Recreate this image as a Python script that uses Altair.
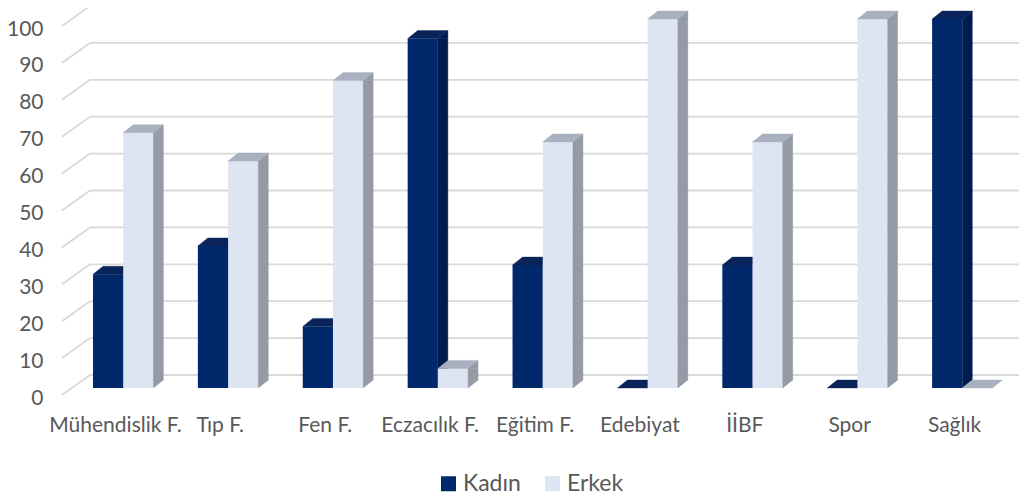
import altair as alt
import pandas as pd

categories = ["Mühendislik F.", "Tıp F.", "Fen F.", "Eczacılık F.", "Eğitim F.",
              "Edebiyat", "İİBF", "Spor", "Sağlık"]
series = ["Kadın", "Erkek"]
kadin = [30.8, 38.5, 16.7, 94.7, 33.3, 0, 33.3, 0, 100]
erkek = [69.2, 61.5, 83.3, 5.3, 66.7, 100, 66.7, 100, 0]
tick_values = list(range(0, 101, 10))

rows = []
for s, vals in zip(series, [kadin, erkek]):
    for c, v in zip(categories, vals):
        rows.append({"cat": c, "group": s, "value": v})
df = pd.DataFrame(rows)
tick_df = pd.DataFrame({"v": tick_values})

FONT = "Lato"
LABEL = "#595959"
GRID = "#d9d9d9"

front_col = {"Kadın": "#00296b", "Erkek": "#dde5f2"}
side_col = {"Kadın": "#001b4d", "Erkek": "#959aa5"}
top_col = {"Kadın": "#0a2459", "Erkek": "#a9b0bf"}

# geometry of the pseudo-3D bars, relative to band centre (pixels)
W = 30.2
DX, DY = 10, 8
left = {"Kadın": -22.45, "Erkek": -22.45 + W}

yscale = alt.Scale(domain=[0, 100], nice=False, zero=True)
xscale = alt.Scale(domain=categories, paddingInner=0, paddingOuter=0)

xaxis = alt.Axis(labelAngle=0, domain=False, ticks=False, grid=False,
                 labelPadding=26, labelFont=FONT, labelFontSize=21, labelColor=LABEL)
yaxis = alt.Axis(values=tick_values, labelOffset=10, domain=False, ticks=False, grid=False,
                 labelPadding=20, labelFont=FONT, labelFontSize=21, labelColor=LABEL)

XE = alt.X("cat:N", scale=xscale, axis=xaxis, sort=categories, title=None)
YE = alt.Y("value:Q", scale=yscale, axis=yaxis, title=None)

grid = alt.Chart(tick_df).mark_rule(
    color=GRID, strokeWidth=1.8, yOffset=-13, y2Offset=-13
).encode(
    y=alt.Y("v:Q", scale=yscale, axis=yaxis, title=None), y2="v",
    x=alt.value(27), x2=alt.value(957)
)
diag = alt.Chart(tick_df).mark_rule(
    color=GRID, strokeWidth=1.8, yOffset=7, y2Offset=-13
).encode(
    y=alt.Y("v:Q", scale=yscale, axis=yaxis, title=None), y2="v",
    x=alt.value(-1), x2=alt.value(27)
)

base = alt.Chart(df)


def path(pts):
    return "M" + " L".join(f"{x:.2f},{y:.2f}" for x, y in pts) + " Z"


def faces(g):
    l = left[g]
    r = l + W
    sel = base.transform_filter(alt.datum.group == g)
    nz = base.transform_filter((alt.datum.group == g) & (alt.datum.value > 0))
    side_rect = nz.mark_bar(width=DX, xOffset=r + DX / 2, y2Offset=-DY,
                            color=side_col[g], stroke=side_col[g], strokeWidth=0.4).encode(
        x=XE, y=YE, y2=alt.datum(0))
    side_cap = nz.mark_point(shape=path([(r, 0), (r + DX, -DY), (r + DX, 0)]), size=4,
                             filled=True, opacity=1, color=side_col[g],
                             stroke=side_col[g], strokeWidth=0.4).encode(x=XE, y=YE)
    side_bot = nz.mark_point(shape=path([(r, -DY), (r, 0), (r + DX, -DY)]), size=4,
                             filled=True, opacity=1, color=side_col[g],
                             stroke=side_col[g], strokeWidth=0.4).encode(
        x=XE, y=alt.Y(datum=0, scale=yscale, axis=yaxis, title=None))
    top = sel.mark_point(shape=path([(l, 0), (r, 0), (r + DX, -DY), (l + DX, -DY)]), size=4,
                         filled=True, opacity=1, color=top_col[g],
                         stroke=top_col[g], strokeWidth=0.4).encode(x=XE, y=YE)
    return [side_rect, side_cap, side_bot, top]


legend = alt.Legend(orient="none", legendX=374, legendY=453,
                    direction="horizontal", title=None,
                    symbolType="square", symbolSize=225,
                    symbolStrokeWidth=0, labelFont=FONT,
                    labelFontSize=23, labelColor=LABEL,
                    labelOffset=3, columnPadding=20)


def front(g):
    sel = base.transform_filter(alt.datum.group == g)
    return sel.mark_bar(width=W, xOffset=left[g] + W / 2).encode(
        x=XE, y=YE,
        color=alt.Color("group:N",
                        scale=alt.Scale(domain=series, range=[front_col[s] for s in series]),
                        legend=legend),
    )


layers = [grid, diag] + faces("Kadın") + [front("Kadın"), front("Erkek")] + faces("Erkek")

chart = alt.layer(*layers).properties(
    width=944, height=369,
    autosize=alt.AutoSizeParams(type="none"),
    padding={"left": 55, "top": 11, "right": 12, "bottom": 107},
).configure_view(stroke=None)

chart.save("out.html", embed_options={"renderer": "svg", "actions": False})
